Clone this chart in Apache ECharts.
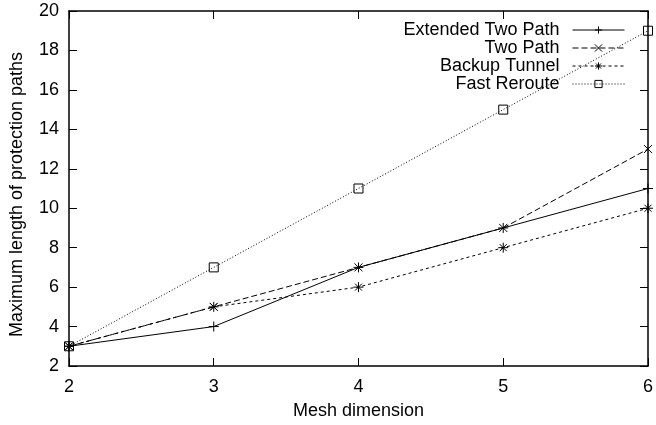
<!DOCTYPE html>
<html>
<head>
<meta charset="utf-8">
<script src="https://cdn.jsdelivr.net/npm/echarts@6/dist/echarts.min.js"></script>
<style>
  html, body { margin: 0; padding: 0; background: #fff; }
  #chart { width: 656px; height: 425px; }
</style>
</head>
<body>
<div id="chart"></div>
<script>
// 数据
const meshDims = [2, 3, 4, 5, 6];
const extendedTwoPath = [3, 4, 7, 9, 11];
const twoPath = [3, 5, 7, 9, 13];
const backupTunnel = [3, 5, 6, 8, 10];
const fastReroute = [3, 7, 11, 15, 19];

const FONT = 'Liberation Sans, Arial, sans-serif';
const FS = 18;

function pairs(ys) {
    return meshDims.map((x, i) => [x, ys[i]]);
}

// 符号
const SYM_PLUS = 'path://M0,5L10,5M5,0L5,10';
const SYM_CROSS = 'path://M0,0L10,10M10,0L0,10';
const SYM_STAR = 'path://M0,5L10,5M5,0L5,10M1.5,1.5L8.5,8.5M8.5,1.5L1.5,8.5';
const SYM_BOX = 'path://M0,0L10,0L10,10L0,10Z';

function makeSeries(name, ys, symbol, size, dash, fill) {
    return {
        name: name,
        type: 'line',
        data: pairs(ys),
        symbol: symbol,
        symbolSize: size,
        showSymbol: true,
        animation: false,
        lineStyle: { color: '#000', width: 1, type: dash },
        itemStyle: { color: fill, borderColor: '#000', borderWidth: 1 }
    };
}

const chart = echarts.init(document.getElementById('chart'));

const tickStyle = { show: true, inside: true, length: 8, lineStyle: { color: '#000', width: 1 } };
const frameLine = { show: true, lineStyle: { color: '#000', width: 1.5 } };

chart.setOption({
    animation: false,
    grid: { left: 68, right: 4, top: 11, bottom: 57 },
    legend: {
        orient: 'vertical',
        right: 26,
        top: 16,
        align: 'right',
        itemWidth: 52,
        itemHeight: 9,
        itemGap: 0,
        lineStyle: { width: 1 },
        itemStyle: { borderWidth: 1 },
        textStyle: { fontFamily: FONT, fontSize: FS, color: '#000', padding: [0, 8, 0, 0] },
        data: ['Extended Two Path', 'Two Path', 'Backup Tunnel', 'Fast Reroute']
    },
    xAxis: [{
        type: 'value',
        min: 2, max: 6, interval: 1,
        name: 'Mesh dimension',
        nameLocation: 'middle',
        nameGap: 36,
        nameTextStyle: { fontFamily: FONT, fontSize: FS, color: '#000' },
        axisLine: frameLine,
        axisTick: tickStyle,
        axisLabel: { fontFamily: FONT, fontSize: FS, color: '#000', margin: 12 },
        splitLine: { show: false }
    }, {
        type: 'value',
        position: 'top',
        min: 2, max: 6, interval: 1,
        axisLine: frameLine,
        axisTick: tickStyle,
        axisLabel: { show: false },
        splitLine: { show: false }
    }],
    yAxis: [{
        type: 'value',
        min: 2, max: 20, interval: 2,
        name: 'Maximum length of protection paths',
        nameLocation: 'middle',
        nameGap: 43,
        nameTextStyle: { fontFamily: FONT, fontSize: FS, color: '#000', padding: [0, 12, 0, 0] },
        axisLine: frameLine,
        axisTick: tickStyle,
        axisLabel: { fontFamily: FONT, fontSize: FS, color: '#000', margin: 10 },
        splitLine: { show: false }
    }, {
        type: 'value',
        position: 'right',
        min: 2, max: 20, interval: 2,
        axisLine: frameLine,
        axisTick: tickStyle,
        axisLabel: { show: false },
        splitLine: { show: false }
    }],
    series: [
        makeSeries('Extended Two Path', extendedTwoPath, SYM_PLUS, 10, 'solid', '#000'),
        makeSeries('Two Path', twoPath, SYM_CROSS, 8, [6, 3], '#000'),
        makeSeries('Backup Tunnel', backupTunnel, SYM_STAR, 10, [3, 3], '#000'),
        makeSeries('Fast Reroute', fastReroute, SYM_BOX, 9, [1, 2], 'rgba(255,255,255,0)')
    ]
});
</script>
</body>
</html>
